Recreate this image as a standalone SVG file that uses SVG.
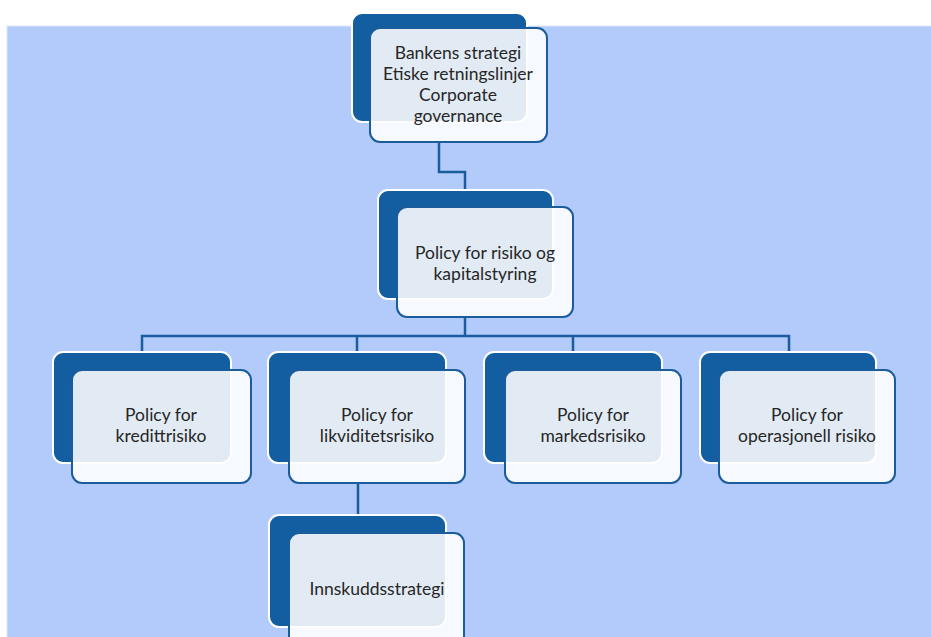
<svg xmlns="http://www.w3.org/2000/svg" width="931" height="637" viewBox="0 0 931 637">
<style>
.dark{fill:#125ea0;stroke:#ffffff;stroke-width:2}
.light{fill:#ffffff;fill-opacity:0.88;stroke:#1a5c9c;stroke-width:2}
.conn{fill:none;stroke:#1a5c9c;stroke-width:2.5}
.t{font-family:Lato,"Open Sans","Liberation Sans",sans-serif;font-size:17.5px;fill:#262626;text-anchor:middle}
</style>
<rect x="0" y="0" width="931" height="637" fill="#ffffff"/>
<rect x="7" y="26" width="930" height="620" fill="#b3cbfb" stroke="#dfe8fa" stroke-width="1"/>
<g id="connectors">
<path class="conn" d="M439,142 V172 H465 V190"/>
<path class="conn" d="M465,317 V336"/>
<path class="conn" d="M142,352 V336 H789 V352"/>
<path class="conn" d="M357,336 V352"/>
<path class="conn" d="M573,336 V352"/>
<path class="conn" d="M358,483 V515"/>
</g>
<g id="node-top">
<rect class="dark" x="352" y="13" width="175" height="109" rx="10"/>
<rect class="light" x="370" y="28" width="177" height="114" rx="10"/>
<text class="t" x="458" y="59">Bankens strategi</text>
<text class="t" x="458" y="80">Etiske retningslinjer</text>
<text class="t" x="458" y="101">Corporate</text>
<text class="t" x="458" y="122">governance</text>
</g>
<g id="node-policy">
<rect class="dark" x="378" y="190" width="175" height="109" rx="10"/>
<rect class="light" x="397" y="207" width="176" height="110" rx="10"/>
<text class="t" x="485" y="259">Policy for risiko og</text>
<text class="t" x="485" y="280">kapitalstyring</text>
</g>
<g id="node-kreditt">
<rect class="dark" x="53" y="352" width="178" height="111" rx="10"/>
<rect class="light" x="72" y="370" width="179" height="113" rx="10"/>
<text class="t" x="161" y="421">Policy for</text>
<text class="t" x="161" y="442">kredittrisiko</text>
</g>
<g id="node-likviditet">
<rect class="dark" x="268" y="352" width="178" height="111" rx="10"/>
<rect class="light" x="289" y="370" width="176" height="113" rx="10"/>
<text class="t" x="377" y="421">Policy for</text>
<text class="t" x="377" y="442">likviditetsrisiko</text>
</g>
<g id="node-markeds">
<rect class="dark" x="484" y="352" width="178" height="111" rx="10"/>
<rect class="light" x="505" y="370" width="176" height="113" rx="10"/>
<text class="t" x="593" y="421">Policy for</text>
<text class="t" x="593" y="442">markedsrisiko</text>
</g>
<g id="node-operasjonell">
<rect class="dark" x="700" y="352" width="176" height="111" rx="10"/>
<rect class="light" x="719" y="370" width="176" height="113" rx="10"/>
<text class="t" x="807" y="421">Policy for</text>
<text class="t" x="807" y="442">operasjonell risiko</text>
</g>
<g id="node-innskudd">
<rect class="dark" x="269" y="515" width="177" height="112" rx="10"/>
<rect class="light" x="289" y="533" width="175" height="113" rx="10"/>
<text class="t" x="377" y="595">Innskuddsstrategi</text>
</g>
</svg>
